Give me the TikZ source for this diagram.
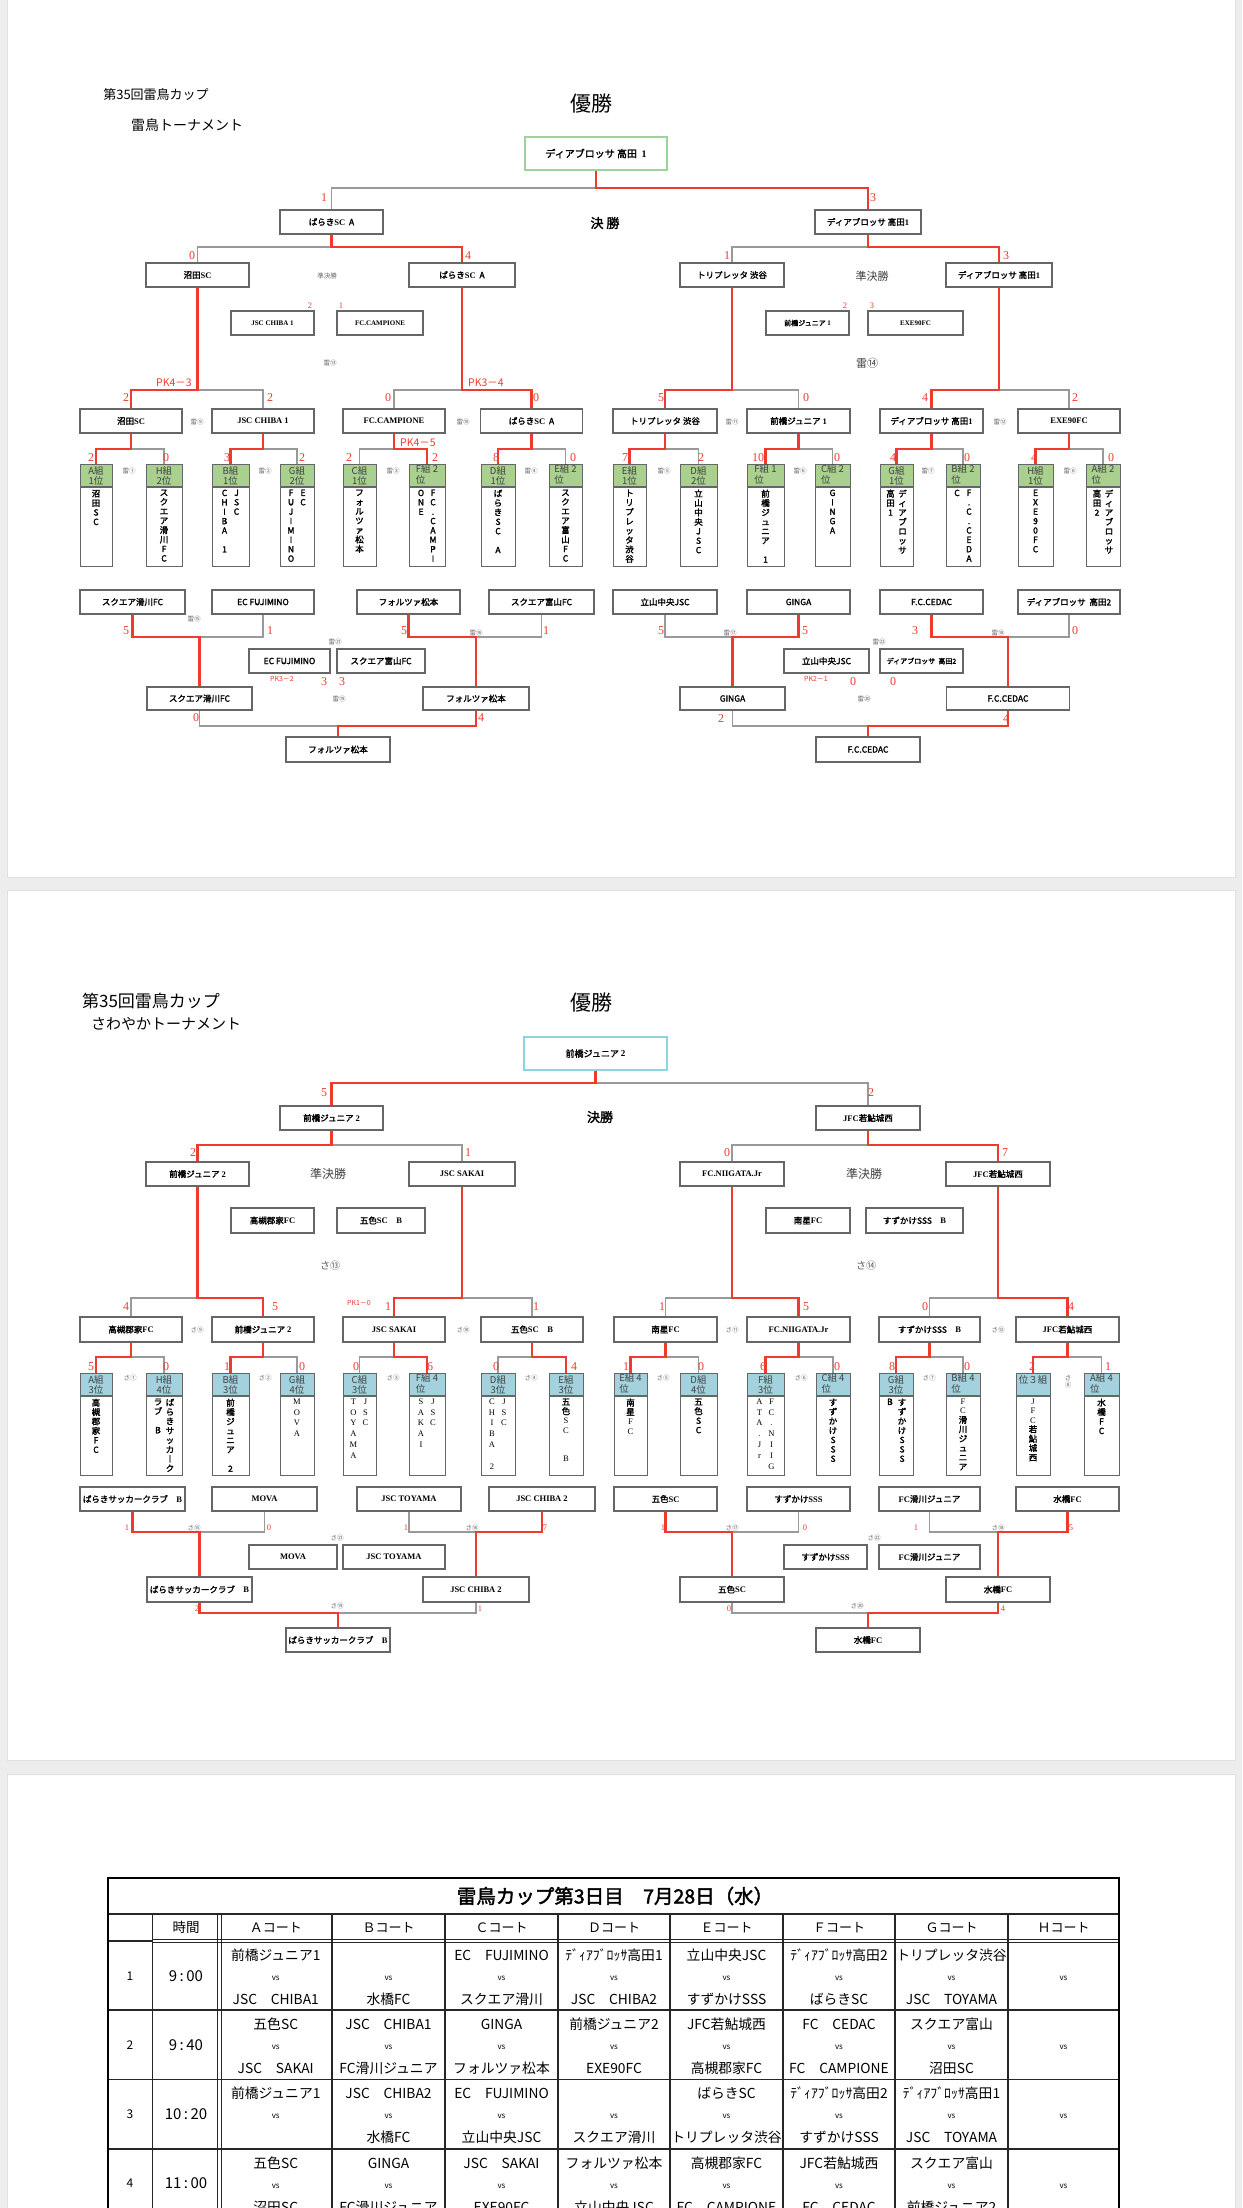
\documentclass[tikz,border=0pt]{standalone}
\usepackage{fontspec}
\newfontfamily\jp{Noto Sans CJK JP}
\newfontfamily\jpb{Noto Sans CJK JP}[FakeBold=2]
\newfontfamily\tms{Liberation Serif}
\definecolor{rd}{HTML}{EE3B2E}
\definecolor{gh}{HTML}{A9D08E}
\definecolor{bh}{HTML}{A3D2DE}
\definecolor{wg}{HTML}{9BD39B}
\definecolor{wb}{HTML}{8ED3E0}
\definecolor{bgc}{HTML}{EDEDED}
\newcommand\RS[1]{{\tms\bfseries #1}}
\newcommand\hlt[2]{\begin{tabular}{@{}l@{}}#1\\#2\end{tabular}}
% downward bracket: parent above, children below
\newcommand\brd[5]{\draw[gl] (#2.north) -- (#2.north |- 0,#4) -- (#3.north |- 0,#4) -- (#3.north);
 \draw[rl] (#1.south) -- (#1.south |- 0,#4) -- (#5.north |- 0,#4) -- (#5.north);}
% upward bracket: children above, parent below
\newcommand\bru[5]{\draw[gl] (#2.south) -- (#2.south |- 0,#4) -- (#3.south |- 0,#4) -- (#3.south);
 \draw[rl] (#5.south) -- (#5.south |- 0,#4) -- (#1.north |- 0,#4) -- (#1.north);}
\newcommand\gpa[8]{\node[ghd,fill=#5,minimum width=#4pt] (#1h) at (#2,#3) {#6};
 \node[gbd,minimum width=#4pt] (#1b) at (#1h.south) {};
 \node[#7] (#1t) at ([yshift=-2.5pt]#1b.north) {#8};}
\newcommand\gpb[9]{\node[ghd,fill=#5,minimum width=#4pt] (#1h) at (#2,#3) {#6};
 \node[gbd,minimum width=#4pt] (#1b) at (#1h.south) {};
 \node[#7] (#1t) at ([xshift=6pt,yshift=-2.5pt]#1b.north) {#8};
 \node[#7] (#1u) at ([xshift=-6pt,yshift=-2.5pt]#1b.north) {#9};}
\newcommand\cel[5]{\node[tt] (#1a) at (#2,#3+14) {#4};
 \node[vsx] (#1v) at (#2,#3+37) {vs};
 \node[tt] (#1b) at (#2,#3+58) {#5};}
\begin{document}
\begin{tikzpicture}[x=1pt,y=-1pt,
 bx/.style={draw=black!60,line width=1.1pt,fill=white,minimum height=24pt,inner sep=0pt,font=\jpb\fontsize{8.5}{10}\selectfont},
 sm/.style={font=\jpb\fontsize{7}{8}\selectfont},
 gl/.style={draw=black!40,line width=1.3pt},
 rl/.style={draw=rd,line width=2.4pt},
 sc/.style={text=rd,font=\tms\fontsize{12}{12}\selectfont,inner sep=0pt},
 scs/.style={text=rd,font=\tms\fontsize{8.5}{8.5}\selectfont,inner sep=0pt},
 pk/.style={text=rd,font=\jp\fontsize{10.5}{11}\selectfont,inner sep=0pt},
 pks/.style={text=rd,font=\jp\fontsize{7}{7}\selectfont,inner sep=0pt},
 lb/.style={text=black!60,font=\jp\fontsize{6.5}{7}\selectfont,inner sep=0pt,align=center},
 lbm/.style={text=black!75,font=\jp\fontsize{11}{11}\selectfont,inner sep=0pt},
 ghd/.style={draw=black!60,line width=1pt,minimum height=22pt,inner sep=0pt,font=\jp\fontsize{9.5}{10}\selectfont,text=black!75,align=center,anchor=north},
 gbd/.style={draw=black!60,line width=1pt,fill=white,minimum height=79pt,inner sep=0pt,anchor=north},
 vt/.style={anchor=north,inner sep=0pt,align=center,font=\jpb\fontsize{8.5}{9.4}\selectfont},
 vr/.style={anchor=north,inner sep=0pt,align=center,font=\tms\fontsize{8.5}{10.8}\selectfont},
 tt/.style={font=\jp\fontsize{13.8}{13.8}\selectfont,inner sep=0pt},
 vsx/.style={font=\jp\fontsize{8}{8}\selectfont,inner sep=0pt},
 tl/.style={line width=1.2pt,draw=black!85},
]
\useasboundingbox (0,0) rectangle (1242,2208);
\fill[bgc] (0,0) rectangle (1242,2208);
\filldraw[fill=white,draw=black!12] (7,-5) rectangle (1235,877);
\filldraw[fill=white,draw=black!12] (7,890) rectangle (1235,1760);
\filldraw[fill=white,draw=black!12] (7,1774) rectangle (1235,2230);

%================ PAGE 1 =================
\node[font=\jp\fontsize{13}{13}\selectfont] (a-t1) at (156,95) {第35回雷鳥カップ};
\node[font=\jp\fontsize{14}{14}\selectfont] (a-t2) at (187,125) {雷鳥トーナメント};
\node[font=\jp\fontsize{21}{21}\selectfont] (a-yu) at (591,104) {優勝};
\node[bx,draw=wg,minimum width=142pt,minimum height=33pt,font=\jpb\fontsize{10}{10}\selectfont] (a-w) at (596,153.5) {ディアブロッサ 高田\ \ \RS{1}};
\node[font=\jpb\fontsize{13}{13}\selectfont] (a-kes) at (605,223) {決 勝};
\node[bx,minimum width=103pt] (a-f1) at (331.5,222) {ばらき\RS{SC}\ \ A};
\node[bx,minimum width=106pt] (a-f2) at (868,222) {ディアブロッサ 高田\RS{1}};
\brd{a-w}{a-f1}{a-f2}{188}{a-f2}
\node[bx,minimum width=103pt] (a-s1) at (197.5,275) {沼田\RS{SC}};
\node[bx,minimum width=106pt] (a-s2) at (462,275) {ばらき\RS{SC}\ \ A};
\node[bx,minimum width=104pt] (a-s3) at (732,275) {トリプレッタ 渋谷};
\node[bx,minimum width=106pt] (a-s4) at (999,275) {ディアブロッサ 高田\RS{1}};
\brd{a-f1}{a-s1}{a-s2}{247}{a-s2}
\brd{a-f2}{a-s3}{a-s4}{247}{a-s4}
\node[bx,sm,minimum width=83pt] (a-p1) at (272.5,323) {\RS{JSC CHIBA 1}};
\node[bx,sm,minimum width=86pt] (a-p2) at (380,323) {\RS{FC.CAMPIONE}};
\node[bx,sm,minimum width=83pt] (a-p3) at (807.5,323) {前橋ジュニア \RS{1}};
\node[bx,sm,minimum width=95pt] (a-p4) at (915.5,323) {\RS{EXE90FC}};
\node[lbm] (a-l2) at (872,276) {準決勝};
\node[lbm] (a-l4) at (867,363) {雷⑭};
% quarter finals
\node[bx,minimum width=102pt] (a-q1) at (131,421) {沼田\RS{SC}};
\node[bx,minimum width=102pt] (a-q2) at (263,421) {\RS{JSC CHIBA 1}};
\node[bx,minimum width=102pt] (a-q3) at (394,421) {\RS{FC.CAMPIONE}};
\node[bx,minimum width=102pt] (a-q4) at (531.5,421) {ばらき\RS{SC}\ \ A};
\node[bx,minimum width=104pt] (a-q5) at (665,421) {トリプレッタ 渋谷};
\node[bx,minimum width=103pt] (a-q6) at (798.5,421) {前橋ジュニア \RS{1}};
\node[bx,minimum width=103pt] (a-q7) at (931.5,421) {ディアブロッサ 高田\RS{1}};
\node[bx,minimum width=102pt] (a-q8) at (1069,421) {\RS{EXE90FC}};
\brd{a-s1}{a-q1}{a-q2}{390}{a-q1}
\brd{a-s2}{a-q3}{a-q4}{390}{a-q4}
\brd{a-s3}{a-q5}{a-q6}{390}{a-q5}
\brd{a-s4}{a-q7}{a-q8}{390}{a-q7}
% groups
\gpa{a-g1}{96}{464}{32}{gh}{A組\\1位}{vt}{沼\\田\\S\\C}
\gpa{a-g2}{164}{464}{36}{gh}{H組\\2位}{vt}{ス\\ク\\エ\\ア\\滑\\川\\F\\C}
\gpb{a-g3}{230.5}{464}{37}{gh}{B組\\1位}{vt}{J\\S\\C}{C\\H\\I\\B\\A\\~\\1}
\gpb{a-g4}{297}{464}{34}{gh}{G組\\2位}{vt}{E\\C}{F\\U\\J\\I\\M\\I\\N\\O}
\gpa{a-g5}{359.5}{464}{33}{gh}{C組\\1位}{vt}{フ\\ォ\\ル\\ツ\\ァ\\松\\本}
\gpb{a-g6}{427}{464}{36}{gh}{\hlt{F組 2}{位}}{vt}{F\\C\\.\\C\\A\\M\\P\\I}{O\\N\\E}
\gpa{a-g7}{498}{464}{34}{gh}{D組\\1位}{vt}{ば\\ら\\き\\S\\C\\~\\A}
\gpa{a-g8}{565.5}{464}{33}{gh}{\hlt{E組 2}{位}}{vt}{ス\\ク\\エ\\ア\\富\\山\\F\\C}
\gpa{a-g9}{629.5}{464}{33}{gh}{E組\\1位}{vt}{ト\\リ\\プ\\レ\\ッ\\タ\\渋\\谷}
\gpa{a-g10}{698.5}{464}{37}{gh}{D組\\2位}{vt}{立\\山\\中\\央\\J\\S\\C}
\gpa{a-g11}{765.5}{464}{37}{gh}{\hlt{F組 1}{位}}{vt}{前\\橋\\ジ\\ュ\\ニ\\ア\\~\\1}
\gpa{a-g12}{832.5}{464}{35}{gh}{\hlt{C組 2}{位}}{vt}{G\\I\\N\\G\\A}
\gpb{a-g13}{896.5}{464}{33}{gh}{G組\\1位}{vt}{デ\\ィ\\ア\\ブ\\ロ\\ッ\\サ}{高\\田\\1}
\gpb{a-g14}{963}{464}{34}{gh}{\hlt{B組 2}{位}}{vt}{F\\.\\C\\.\\C\\E\\D\\A}{C}
\gpa{a-g15}{1035.5}{464}{35}{gh}{H組\\1位}{vt}{E\\X\\E\\9\\0\\F\\C}
\gpb{a-g16}{1103}{464}{34}{gh}{\hlt{A組 2}{位}}{vt}{デ\\ィ\\ア\\ブ\\ロ\\ッ\\サ}{高\\田\\2}
\brd{a-q1}{a-g1h}{a-g2h}{449}{a-g1h}
\brd{a-q2}{a-g3h}{a-g4h}{449}{a-g3h}
\brd{a-q3}{a-g5h}{a-g6h}{449}{a-g6h}
\brd{a-q4}{a-g7h}{a-g8h}{449}{a-g7h}
\brd{a-q5}{a-g9h}{a-g10h}{449}{a-g9h}
\brd{a-q6}{a-g11h}{a-g12h}{449}{a-g11h}
\brd{a-q7}{a-g13h}{a-g14h}{449}{a-g13h}
\brd{a-q8}{a-g15h}{a-g16h}{449}{a-g15h}
% consolation
\node[bx,minimum width=105pt] (a-c1) at (132.5,602) {スクエア滑川FC};
\node[bx,minimum width=102pt] (a-c2) at (263,602) {EC FUJIMINO};
\node[bx,minimum width=103pt] (a-c3) at (408.5,602) {フォルツァ松本};
\node[bx,minimum width=105pt] (a-c4) at (541.5,602) {スクエア富山FC};
\node[bx,minimum width=104pt] (a-c5) at (665,602) {立山中央JSC};
\node[bx,minimum width=103pt] (a-c6) at (798.5,602) {GINGA};
\node[bx,minimum width=103pt] (a-c7) at (931.5,602) {F.C.CEDAC};
\node[bx,minimum width=102pt] (a-c8) at (1069,602) {ディアブロッサ\ \ 高田2};
\node[bx,minimum width=81pt] (a-m1) at (289.5,661) {EC FUJIMINO};
\node[bx,minimum width=88pt] (a-m2) at (381,661) {スクエア富山FC};
\node[bx,minimum width=85pt] (a-m3) at (826.5,661) {立山中央JSC};
\node[bx,sm,minimum width=83pt] (a-m4) at (921.5,661) {ディアブロッサ\ \ 高田2};
\node[bx,minimum width=105pt,minimum height=23pt] (a-d1) at (199.5,698.5) {スクエア滑川FC};
\node[bx,minimum width=106pt,minimum height=23pt] (a-d2) at (476,698.5) {フォルツァ松本};
\node[bx,minimum width=105pt,minimum height=23pt] (a-d3) at (732.5,698.5) {GINGA};
\node[bx,minimum width=123pt,minimum height=23pt] (a-d4) at (1008,698.5) {F.C.CEDAC};
\node[bx,minimum width=104pt,minimum height=25pt] (a-e1) at (338,749.5) {フォルツァ松本};
\node[bx,minimum width=104pt,minimum height=25pt] (a-e2) at (868,749.5) {F.C.CEDAC};
\bru{a-d1}{a-c1}{a-c2}{637}{a-c1}
\bru{a-d2}{a-c3}{a-c4}{637}{a-c3}
\bru{a-d3}{a-c5}{a-c6}{637}{a-c6}
\bru{a-d4}{a-c7}{a-c8}{637}{a-c7}
\bru{a-e1}{a-d1}{a-d2}{726}{a-d2}
\bru{a-e2}{a-d3}{a-d4}{726}{a-d4}
% scores page 1
\foreach \x/\y/\t [count=\i] in {324/198/1,873/198/3,192/256/0,468/256/4,727/256/1,1006/256/3,126/398/2,270/398/2,388/398/0,536/398/0,661/398/5,806/398/0,925/398/4,1075/398/2,126/631/5,270/631/1,404/631/5,546/631/1,661/631/5,805/631/5,915/631/3,1075/631/0,324/682/3,342/682/3,853/682/0,893/682/0,196/718/0,481/718/4,721/719/2,1006/719/4}
  \node[sc] (a-n\i) at (\x,\y) {\t};
\foreach \x/\t [count=\i] in {91/2,166/0,227/3,302/2,349/2,435/2,496/8,573/0,625/7,701/2,758/10,837/0,893/4,967/0,1034/4,1111/0}
  \node[sc] (a-gn\i) at (\x,458) {\t};
\foreach \x/\t [count=\i] in {310/2,341/1,845/2,872/3}
  \node[scs] (a-pn\i) at (\x,306) {\t};
\node[pk] (a-pk1) at (174,383) {PK4－3};
\node[pk] (a-pk2) at (486,383) {PK3－4};
\node[pk] (a-pk3) at (418,443) {PK4－5};
\node[pks] (a-pk4) at (282,679) {PK3－2};
\node[pks] (a-pk5) at (816,679) {PK2－1};
\foreach \x/\y/\t [count=\i] in {129/471/雷①,265/471/雷②,393/471/雷③,531/471/雷④,664/471/雷⑤,800/471/雷⑥,928/471/雷⑦,1070/471/雷⑧,197/422/雷⑨,463/422/雷⑩,732/422/雷⑪,1000/422/雷⑫,330/363/雷⑬,194/619/雷⑮,476/633/雷⑯,730/633/雷⑰,998/633/雷⑱,335/642/雷㉑,879/642/雷㉒,339/699/雷⑲,864/699/雷⑳,327/276/準決勝}
  \node[lb] (a-lb\i) at (\x,\y) {\t};

%================ PAGE 2 =================
\node[font=\jp\fontsize{17}{17}\selectfont] (b-t1) at (151,1001) {第35回雷鳥カップ};
\node[font=\jp\fontsize{15}{15}\selectfont] (b-t2) at (166,1024) {さわやかトーナメント};
\node[font=\jp\fontsize{21}{21}\selectfont] (b-yu) at (591,1003) {優勝};
\node[bx,draw=wb,minimum width=143pt,minimum height=33pt,font=\jpb\fontsize{9}{10}\selectfont] (b-w) at (595.5,1053.5) {前橋ジュニア \RS{2}};
\node[font=\jpb\fontsize{13}{13}\selectfont] (b-kes) at (600,1117) {決勝};
\node[bx,minimum width=103pt] (b-f1) at (331.5,1118) {前橋ジュニア \RS{2}};
\node[bx,minimum width=104pt] (b-f2) at (868,1118) {\RS{JFC}若鮎城西};
\brd{b-w}{b-f1}{b-f2}{1083}{b-f1}
\node[bx,minimum width=103pt] (b-s1) at (197.5,1174) {前橋ジュニア \RS{2}};
\node[bx,minimum width=106pt] (b-s2) at (462,1174) {\RS{JSC SAKAI}};
\node[bx,minimum width=104pt] (b-s3) at (732,1174) {\RS{FC.NIIGATA.Jr}};
\node[bx,minimum width=104pt] (b-s4) at (998,1174) {\RS{JFC}若鮎城西};
\brd{b-f1}{b-s1}{b-s2}{1145}{b-s1}
\brd{b-f2}{b-s3}{b-s4}{1145}{b-s4}
\node[bx,minimum width=83pt,minimum height=25pt] (b-p1) at (272.5,1220.5) {高槻郡家\RS{FC}};
\node[bx,minimum width=88pt,minimum height=25pt] (b-p2) at (381,1220.5) {五色\RS{SC}\quad\RS{B}};
\node[bx,minimum width=84pt,minimum height=25pt] (b-p3) at (808,1220.5) {南星\RS{FC}};
\node[bx,minimum width=97pt,minimum height=25pt] (b-p4) at (914.5,1220.5) {すずかけSSS\quad\RS{B}};
\node[font=\jp\fontsize{12}{12}\selectfont,text=black!75] (b-l1) at (328,1174) {準決勝};
\node[font=\jp\fontsize{12}{12}\selectfont,text=black!75] (b-l2) at (864,1174) {準決勝};
\node[font=\jp\fontsize{10}{10}\selectfont,text=black!65] (b-l3) at (330,1266) {さ⑬};
\node[font=\jp\fontsize{10}{10}\selectfont,text=black!65] (b-l4) at (866,1266) {さ⑭};
\node[bx,minimum width=102pt,minimum height=25pt] (b-q1) at (131,1329.5) {高槻郡家\RS{FC}};
\node[bx,minimum width=102pt,minimum height=25pt] (b-q2) at (263,1329.5) {前橋ジュニア \RS{2}};
\node[bx,minimum width=102pt,minimum height=25pt] (b-q3) at (394,1329.5) {\RS{JSC SAKAI}};
\node[bx,minimum width=102pt,minimum height=25pt] (b-q4) at (532,1329.5) {五色\RS{SC}\quad\RS{B}};
\node[bx,minimum width=103pt,minimum height=25pt] (b-q5) at (665.5,1329.5) {南星\RS{FC}};
\node[bx,minimum width=103pt,minimum height=25pt] (b-q6) at (798.5,1329.5) {\RS{FC.NIIGATA.Jr}};
\node[bx,minimum width=101pt,minimum height=25pt] (b-q7) at (929.5,1329.5) {すずかけSSS\quad\RS{B}};
\node[bx,minimum width=103pt,minimum height=25pt] (b-q8) at (1067.5,1329.5) {\RS{JFC}若鮎城西};
\brd{b-s1}{b-q1}{b-q2}{1298}{b-q2}
\brd{b-s2}{b-q3}{b-q4}{1298}{b-q3}
\brd{b-s3}{b-q5}{b-q6}{1298}{b-q6}
\brd{b-s4}{b-q7}{b-q8}{1298}{b-q8}
\gpa{b-g1}{96}{1373}{32}{bh}{A組\\3位}{vt}{高\\槻\\郡\\家\\F\\C}
\gpb{b-g2}{164}{1373}{36}{bh}{H組\\4位}{vt}{ば\\ら\\き\\サ\\ッ\\カ\\︱\\ク}{ラ\\ブ\\~\\B}
\gpa{b-g3}{230.5}{1373}{37}{bh}{B組\\3位}{vt}{前\\橋\\ジ\\ュ\\ニ\\ア\\~\\2}
\gpa{b-g4}{297}{1373}{34}{bh}{G組\\4位}{vr}{M\\O\\V\\A}
\gpb{b-g5}{359.5}{1373}{33}{bh}{C組\\3位}{vr}{J\\S\\C}{T\\O\\Y\\A\\M\\A}
\gpb{b-g6}{427}{1373}{36}{bh}{\hlt{F組 4}{位}}{vr}{J\\S\\C}{S\\A\\K\\A\\I}
\gpb{b-g7}{498}{1373}{34}{bh}{D組\\3位}{vr}{J\\S\\C}{C\\H\\I\\B\\A\\~\\2}
\gpa{b-g8}{566}{1373}{34}{bh}{E組\\3位}{vt}{五\\色\\{\tms S}\\{\tms C}\\~\\~\\{\tms B}}
\gpa{b-g9}{630.5}{1373}{33}{bh}{\hlt{E組 4}{位}}{vt}{南\\星\\{\tms F}\\{\tms C}}
\gpa{b-g10}{698.5}{1373}{37}{bh}{D組\\4位}{vt}{五\\色\\S\\C}
\gpb{b-g11}{765.5}{1373}{37}{bh}{F組\\3位}{vr}{F\\C\\.\\N\\I\\I\\G}{A\\T\\A\\.\\J\\r}
\gpa{b-g12}{833}{1373}{34}{bh}{\hlt{C組 4}{位}}{vt}{す\\ず\\か\\け\\S\\S\\S}
\gpb{b-g13}{896}{1373}{34}{bh}{G組\\3位}{vt}{す\\ず\\か\\け\\S\\S\\S}{B}
\gpa{b-g14}{963}{1373}{34}{bh}{\hlt{B組 4}{位}}{vt}{{\tms F}\\{\tms C}\\滑\\川\\ジ\\ュ\\ニ\\ア}
\gpa{b-g15}{1033}{1373}{34}{bh}{位３組\\\mbox{}}{vt}{{\tms J}\\{\tms F}\\{\tms C}\\若\\鮎\\城\\西}
\gpa{b-g16}{1101.5}{1373}{35}{bh}{\hlt{A組 4}{位}}{vt}{水\\橋\\F\\C}
\brd{b-q1}{b-g1h}{b-g2h}{1357}{b-g1h}
\brd{b-q2}{b-g3h}{b-g4h}{1357}{b-g3h}
\brd{b-q3}{b-g5h}{b-g6h}{1357}{b-g6h}
\brd{b-q4}{b-g7h}{b-g8h}{1357}{b-g8h}
\brd{b-q5}{b-g9h}{b-g10h}{1357}{b-g9h}
\brd{b-q6}{b-g11h}{b-g12h}{1357}{b-g11h}
\brd{b-q7}{b-g13h}{b-g14h}{1357}{b-g13h}
\brd{b-q8}{b-g15h}{b-g16h}{1357}{b-g15h}
\node[bx,minimum width=105pt] (b-c1) at (132.5,1499) {ばらきサッカークラブ\quad\RS{B}};
\node[bx,minimum width=105pt] (b-c2) at (264.5,1499) {\RS{MOVA}};
\node[bx,minimum width=104pt] (b-c3) at (409,1499) {\RS{JSC TOYAMA}};
\node[bx,minimum width=106pt] (b-c4) at (542,1499) {\RS{JSC CHIBA 2}};
\node[bx,minimum width=103pt] (b-c5) at (665.5,1499) {五色\RS{SC}};
\node[bx,minimum width=103pt] (b-c6) at (798.5,1499) {すずかけ\RS{SSS}};
\node[bx,minimum width=101pt] (b-c7) at (929.5,1499) {\RS{FC}滑川ジュニア};
\node[bx,minimum width=103pt] (b-c8) at (1067.5,1499) {水橋\RS{FC}};
\node[bx,minimum width=88pt] (b-m1) at (293,1557) {\RS{MOVA}};
\node[bx,minimum width=102pt] (b-m2) at (394,1557) {\RS{JSC TOYAMA}};
\node[bx,minimum width=83pt] (b-m3) at (825.5,1557) {すずかけ\RS{SSS}};
\node[bx,minimum width=101pt] (b-m4) at (929.5,1557) {\RS{FC}滑川ジュニア};
\node[bx,minimum width=105pt,minimum height=25pt] (b-d1) at (199.5,1589.5) {ばらきサッカークラブ\quad\RS{B}};
\node[bx,minimum width=106pt,minimum height=25pt] (b-d2) at (476,1589.5) {\RS{JSC CHIBA 2}};
\node[bx,minimum width=104pt,minimum height=25pt] (b-d3) at (732,1589.5) {五色\RS{SC}};
\node[bx,minimum width=104pt,minimum height=25pt] (b-d4) at (998,1589.5) {水橋\RS{FC}};
\node[bx,minimum width=104pt] (b-e1) at (338,1640) {ばらきサッカークラブ\quad\RS{B}};
\node[bx,minimum width=104pt] (b-e2) at (868,1640) {水橋\RS{FC}};
\bru{b-d1}{b-c1}{b-c2}{1532}{b-c1}
\bru{b-d2}{b-c3}{b-c4}{1532}{b-c4}
\bru{b-d3}{b-c5}{b-c6}{1532}{b-c5}
\bru{b-d4}{b-c7}{b-c8}{1532}{b-c8}
\bru{b-e1}{b-d1}{b-d2}{1613}{b-d1}
\bru{b-e2}{b-d3}{b-d4}{1613}{b-d4}
\foreach \x/\y/\t [count=\i] in {324/1093/5,871/1093/2,193/1153/2,468/1153/1,727/1153/0,1005/1153/7,126/1307/4,275/1307/5,388/1307/1,536/1307/1,662/1307/1,806/1307/5,925/1307/0,1071/1307/4}
  \node[sc] (b-n\i) at (\x,\y) {\t};
\foreach \x/\t [count=\i] in {91/5,166/0,227/1,302/0,356/0,430/6,496/0,574/4,626/1,701/0,763/6,837/0,892/8,967/0,1032/2,1108/1}
  \node[sc] (b-gn\i) at (\x,1367) {\t};
\foreach \x/\y/\t [count=\i] in {127/1528/1,269/1528/0,406/1528/1,545/1528/7,663/1528/1,805/1528/0,916/1528/1,1071/1528/5,197/1609/2,480/1609/1,729/1609/0,1003/1609/4}
  \node[scs] (b-ln\i) at (\x,\y) {\t};
\node[pks] (b-pk1) at (359,1303) {PK1－0};
\foreach \x/\y/\t [count=\i] in {130/1378/さ①,265/1378/さ②,393/1378/さ③,531/1378/さ④,663/1378/さ⑤,801/1378/さ⑥,929/1378/さ⑦,197/1330/さ⑨,463/1330/さ⑩,732/1330/さ⑪,998/1330/さ⑫,194/1528/さ⑮,472/1528/さ⑯,732/1528/さ⑰,998/1528/さ⑱,337/1538/さ㉑,874/1538/さ㉒,337/1606/さ⑲,857/1606/さ⑳}
  \node[lb] (b-lb\i) at (\x,\y) {\t};
\node[lb] (b-lb8) at (1068,1382) {さ\\⑧};

%================ PAGE 3 =================
\draw[tl] (108,1914) -- (1119,1914);
\draw[tl] (108,1941) -- (152.5,1941);
\draw[tl] (152.5,1939.3) -- (1119,1939.3);
\draw[tl] (152.5,1942.8) -- (1119,1942.8);
\foreach \y in {2010,2079.5,2149} \draw[tl] (108,\y) -- (1119,\y);
\foreach \x in {152.5,217.5,221.5,332,445,558,670,783,895,1008} \draw[tl] (\x,1914) -- (\x,2215);
\draw[line width=2.5pt] (108,1878) -- (1119,1878);
\draw[line width=2.5pt] (108,1876.8) -- (108,2215);
\draw[line width=2.5pt] (1119,1876.8) -- (1119,2215);
\node[font=\jpb\fontsize{19.5}{19.5}\selectfont] (tt-title) at (615,1896) {雷鳥カップ第3日目　7月28日（水）};
\node[font=\jp\fontsize{13.5}{13.5}\selectfont] (th0) at (186,1927.5) {時間};
\foreach \x/\t [count=\i] in {275.75/Ａコート,388.5/Ｂコート,501.5/Ｃコート,614/Ｄコート,726.5/Ｅコート,839/Ｆコート,951.5/Ｇコート,1063.5/Ｈコート}
  \node[font=\jp\fontsize{13}{13}\selectfont] (th\i) at (\x,1927.5) {\t};
\foreach \y/\n/\t [count=\i] in {1976/1/9\,:\,00,2045/2/9\,:\,40,2114.5/3/10\,:\,20,2183.5/4/11\,:\,00}{
  \node[font=\jp\fontsize{12}{12}\selectfont] (rn\i) at (130,\y) {\n};
  \node[font=\jp\fontsize{15}{15}\selectfont] (rt\i) at (186,\y) {\t};}
% row 1
\cel{ta1}{275.75}{1941}{前橋ジュニア1}{JSC　CHIBA1}
\cel{tb1}{388.5}{1941}{}{水橋FC}
\cel{tc1}{501.5}{1941}{EC　FUJIMINO}{スクエア滑川}
\cel{td1}{614}{1941}{ﾃﾞｨｱﾌﾞﾛｯｻ高田1}{JSC　CHIBA2}
\cel{te1}{726.5}{1941}{立山中央JSC}{すずかけSSS}
\cel{tf1}{839}{1941}{ﾃﾞｨｱﾌﾞﾛｯｻ高田2}{ばらきSC}
\cel{tg1}{951.5}{1941}{トリプレッタ渋谷}{JSC　TOYAMA}
\cel{th1}{1063.5}{1941}{}{}
% row 2
\cel{ta2}{275.75}{2010}{五色SC}{JSC　SAKAI}
\cel{tb2}{388.5}{2010}{JSC　CHIBA1}{FC滑川ジュニア}
\cel{tc2}{501.5}{2010}{GINGA}{フォルツァ松本}
\cel{td2}{614}{2010}{前橋ジュニア2}{EXE90FC}
\cel{te2}{726.5}{2010}{JFC若鮎城西}{高槻郡家FC}
\cel{tf2}{839}{2010}{FC　CEDAC}{FC　CAMPIONE}
\cel{tg2}{951.5}{2010}{スクエア富山}{沼田SC}
\cel{th2}{1063.5}{2010}{}{}
% row 3
\cel{ta3}{275.75}{2079.5}{前橋ジュニア1}{}
\cel{tb3}{388.5}{2079.5}{JSC　CHIBA2}{水橋FC}
\cel{tc3}{501.5}{2079.5}{EC　FUJIMINO}{立山中央JSC}
\cel{td3}{614}{2079.5}{}{スクエア滑川}
\cel{te3}{726.5}{2079.5}{ばらきSC}{トリプレッタ渋谷}
\cel{tf3}{839}{2079.5}{ﾃﾞｨｱﾌﾞﾛｯｻ高田2}{すずかけSSS}
\cel{tg3}{951.5}{2079.5}{ﾃﾞｨｱﾌﾞﾛｯｻ高田1}{JSC　TOYAMA}
\cel{th3}{1063.5}{2079.5}{}{}
% row 4
\cel{ta4}{275.75}{2149}{五色SC}{沼田SC}
\cel{tb4}{388.5}{2149}{GINGA}{FC滑川ジュニア}
\cel{tc4}{501.5}{2149}{JSC　SAKAI}{EXE90FC}
\cel{td4}{614}{2149}{フォルツァ松本}{立山中央JSC}
\cel{te4}{726.5}{2149}{高槻郡家FC}{FC　CAMPIONE}
\cel{tf4}{839}{2149}{JFC若鮎城西}{FC　CEDAC}
\cel{tg4}{951.5}{2149}{スクエア富山}{前橋ジュニア2}
\cel{th4}{1063.5}{2149}{}{}
\end{tikzpicture}
\end{document}
